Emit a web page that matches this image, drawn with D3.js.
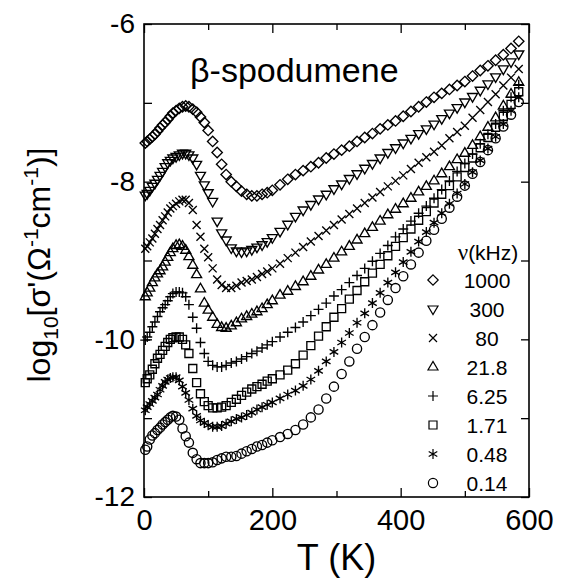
<!DOCTYPE html>
<html>
<head>
<meta charset="utf-8">
<script src="https://cdn.jsdelivr.net/npm/d3@7"></script>
<style>
  body { margin: 0; background: #fff; }
  svg { display: block; }
  text { font-family: "Liberation Sans", Arial, sans-serif; fill: #000; }
</style>
</head>
<body>
<div id="chart"></div>
<script>
// temperatures (K) shared by every frequency
const temps = [2,5,9,13,17,21,25,29,33,37,41,45,50,55,60,65,70,76,82,88,94,100,107,114,121,128,
  136,144,152,160,168,176,184,192,200,212,224,236,248,260,272,284,296,308,320,332,344,356,368,380,
  392,404,416,428,440,452,464,476,488,500,512,524,536,548,560,572,584];

// log10 sigma' for each frequency (kHz)
const s1000 = [-7.51,-7.49,-7.46,-7.43,-7.40,-7.36,-7.32,-7.28,-7.25,-7.21,-7.17,-7.13,
  -7.10,-7.07,-7.05,-7.04,-7.05,-7.08,-7.12,-7.18,-7.25,-7.35,-7.49,-7.63,-7.78,-7.91,
  -8.00,-8.06,-8.12,-8.16,-8.18,-8.18,-8.16,-8.14,-8.11,
  -8.04,-7.97,-7.91,-7.86,-7.81,-7.76,-7.70,-7.65,-7.60,-7.55,-7.49,-7.44,-7.39,-7.33,-7.28,-7.23,
  -7.17,-7.11,-7.05,-6.99,-6.93,-6.88,-6.83,-6.78,-6.73,-6.66,-6.59,-6.53,-6.46,-6.39,-6.31,-6.22];
const s300 = [-8.17,-8.15,-8.11,-8.06,-8.02,-7.97,-7.92,-7.87,-7.81,-7.76,-7.73,-7.70,
  -7.68,-7.66,-7.64,-7.64,-7.66,-7.70,-7.78,-7.92,-8.04,-8.14,-8.25,-8.50,-8.65,-8.74,
  -8.84,-8.88,-8.89,-8.88,-8.86,-8.83,-8.80,-8.76,-8.71,
  -8.63,-8.54,-8.44,-8.36,-8.29,-8.22,-8.16,-8.09,-8.03,-7.96,-7.90,-7.83,-7.77,-7.70,-7.63,-7.57,
  -7.51,-7.45,-7.39,-7.33,-7.27,-7.20,-7.13,-7.06,-6.99,-6.92,-6.84,-6.76,-6.67,-6.57,-6.48,-6.38];
const s80 = [-8.85,-8.82,-8.77,-8.72,-8.66,-8.60,-8.55,-8.49,-8.44,-8.39,-8.34,-8.31,
  -8.28,-8.25,-8.23,-8.23,-8.27,-8.36,-8.55,-8.70,-8.85,-8.96,-9.10,-9.24,-9.31,-9.35,
  -9.35,-9.32,-9.28,-9.26,-9.24,-9.21,-9.17,-9.14,-9.10,
  -9.04,-8.97,-8.90,-8.83,-8.76,-8.69,-8.62,-8.55,-8.48,-8.41,-8.34,-8.27,-8.20,-8.13,-8.06,-7.99,
  -7.92,-7.84,-7.76,-7.69,-7.62,-7.54,-7.45,-7.37,-7.29,-7.19,-7.09,-6.99,-6.89,-6.78,-6.68,-6.57];
const s21_8 = [-9.46,-9.41,-9.35,-9.28,-9.22,-9.17,-9.13,-9.08,-9.02,-8.96,-8.90,-8.85,
  -8.81,-8.80,-8.82,-8.87,-8.95,-9.06,-9.18,-9.36,-9.54,-9.63,-9.72,-9.81,-9.85,-9.86,
  -9.83,-9.79,-9.74,-9.71,-9.68,-9.65,-9.61,-9.56,-9.51,
  -9.44,-9.39,-9.33,-9.27,-9.20,-9.12,-9.05,-8.97,-8.89,-8.82,-8.74,-8.66,-8.58,-8.50,-8.42,-8.35,
  -8.28,-8.21,-8.13,-8.06,-7.99,-7.90,-7.81,-7.72,-7.64,-7.54,-7.43,-7.31,-7.19,-7.04,-6.89,-6.74];
const s6_25 = [-10.01,-9.97,-9.91,-9.84,-9.78,-9.71,-9.65,-9.60,-9.56,-9.51,-9.46,-9.42,
  -9.40,-9.40,-9.41,-9.46,-9.56,-9.72,-9.86,-10.04,-10.18,-10.28,-10.33,-10.35,-10.35,-10.33,
  -10.30,-10.28,-10.25,-10.22,-10.18,-10.15,-10.11,-10.07,-10.03,
  -9.97,-9.91,-9.85,-9.78,-9.70,-9.62,-9.54,-9.45,-9.37,-9.28,-9.19,-9.10,-9.01,-8.91,-8.81,-8.70,
  -8.60,-8.50,-8.40,-8.31,-8.21,-8.10,-7.99,-7.87,-7.77,-7.65,-7.52,-7.40,-7.27,-7.10,-6.93,-6.77];
const s1_71 = [-10.55,-10.50,-10.45,-10.38,-10.31,-10.24,-10.19,-10.14,-10.09,-10.04,-10.00,-9.98,
  -9.97,-9.97,-10.00,-10.07,-10.18,-10.37,-10.55,-10.69,-10.79,-10.84,-10.87,-10.87,-10.86,-10.84,
  -10.80,-10.76,-10.71,-10.67,-10.63,-10.60,-10.57,-10.53,-10.50,
  -10.45,-10.39,-10.31,-10.20,-10.08,-9.96,-9.84,-9.72,-9.61,-9.49,-9.38,-9.27,-9.16,-9.05,-8.94,-8.82,
  -8.71,-8.60,-8.49,-8.38,-8.27,-8.16,-8.05,-7.94,-7.82,-7.70,-7.57,-7.44,-7.31,-7.17,-7.02,-6.86];
const s0_48 = [-10.90,-10.86,-10.82,-10.78,-10.74,-10.70,-10.64,-10.59,-10.54,-10.51,-10.49,-10.48,
  -10.48,-10.52,-10.60,-10.68,-10.77,-10.88,-10.97,-11.03,-11.06,-11.09,-11.11,-11.11,-11.10,-11.07,
  -11.04,-11.01,-10.99,-10.96,-10.93,-10.89,-10.86,-10.83,-10.80,
  -10.75,-10.70,-10.65,-10.59,-10.51,-10.40,-10.28,-10.16,-10.04,-9.92,-9.79,-9.67,-9.54,-9.41,-9.28,-9.15,
  -9.02,-8.89,-8.76,-8.64,-8.52,-8.40,-8.28,-8.15,-8.03,-7.88,-7.73,-7.58,-7.43,-7.27,-7.10,-6.93];
const s0_14 = [-11.40,-11.36,-11.27,-11.22,-11.19,-11.15,-11.12,-11.08,-11.05,-11.02,-10.99,-10.97,
  -10.98,-11.02,-11.13,-11.23,-11.31,-11.44,-11.52,-11.57,-11.57,-11.57,-11.56,-11.53,-11.51,-11.49,
  -11.49,-11.48,-11.45,-11.42,-11.39,-11.36,-11.34,-11.31,-11.28,
  -11.24,-11.20,-11.15,-11.08,-10.99,-10.89,-10.75,-10.60,-10.44,-10.28,-10.12,-9.97,-9.82,-9.66,-9.50,-9.35,
  -9.20,-9.05,-8.90,-8.75,-8.61,-8.47,-8.33,-8.19,-8.05,-7.90,-7.75,-7.60,-7.45,-7.30,-7.15,-6.99];

const labels = ["1000", "300", "80", "21.8", "6.25", "1.71", "0.48", "0.14"];
const shapeNames = ["diamond", "triDown", "times", "triUp", "plus", "square", "asterisk", "circle"];
const seriesValues = [s1000, s300, s80, s21_8, s6_25, s1_71, s0_48, s0_14];

const xTicks = [0, 200, 400, 600];
const xMinor = [100, 300, 500];
const yTicks = [-6, -8, -10, -12];
const yMinor = [-7, -9, -11];

// open marker outlines
const shapes = {
  diamond: () => "M0,-5.2L5.2,0L0,5.2L-5.2,0Z",
  triDown: () => "M-5,-3L5,-3L0,5.6Z",
  triUp: () => "M-5,3L5,3L0,-5.6Z",
  times: () => "M-4,-4L4,4M-4,4L4,-4",
  plus: () => "M-5,0L5,0M0,-5L0,5",
  square: () => "M-4,-4H4V4H-4Z",
  asterisk: () => "M0,-5V5M-4.3,-2.5L4.3,2.5M-4.3,2.5L4.3,-2.5",
  circle: () => "M4.6,0A4.6,4.6 0 1,1 -4.6,0A4.6,4.6 0 1,1 4.6,0Z"
};

const width = 561, height = 588;
const margin = { top: 24, right: 32, bottom: 91, left: 144 };

const svg = d3.select("#chart").append("svg")
  .attr("width", width)
  .attr("height", height);

const x = d3.scaleLinear().domain([0, 600]).range([margin.left, width - margin.right]);
const y = d3.scaleLinear().domain([-12, -6]).range([height - margin.bottom, margin.top]);

const x0 = x.range()[0], x1 = x.range()[1], y0 = y.range()[0], y1 = y.range()[1];

// ticks, all pointing inwards
function styleAxis(g) {
  g.select(".domain").remove();
  g.selectAll(".tick line").attr("stroke", "#000").attr("stroke-width", 1.3);
}

svg.append("g").attr("transform", `translate(0,${y0})`)
  .call(d3.axisBottom(x).tickValues(xTicks).tickSize(-9).tickPadding(12).tickFormat(d3.format("d")))
  .call(styleAxis)
  .selectAll("text").style("font-size", "29px");
svg.append("g").attr("transform", `translate(0,${y0})`)
  .call(d3.axisBottom(x).tickValues(xMinor).tickSize(-6).tickFormat(""))
  .call(styleAxis);
svg.append("g").attr("transform", `translate(0,${y1})`)
  .call(d3.axisTop(x).tickValues(xTicks).tickSize(-9).tickFormat(""))
  .call(styleAxis);
svg.append("g").attr("transform", `translate(0,${y1})`)
  .call(d3.axisTop(x).tickValues(xMinor).tickSize(-6).tickFormat(""))
  .call(styleAxis);

svg.append("g").attr("transform", `translate(${x0},0)`)
  .call(d3.axisLeft(y).tickValues(yTicks).tickSize(-8).tickPadding(9).tickFormat(d => "-" + Math.abs(d)))
  .call(styleAxis)
  .selectAll("text").style("font-size", "28px");
svg.append("g").attr("transform", `translate(${x0},0)`)
  .call(d3.axisLeft(y).tickValues(yMinor).tickSize(-8).tickFormat(""))
  .call(styleAxis);
svg.append("g").attr("transform", `translate(${x1},0)`)
  .call(d3.axisRight(y).tickValues(yTicks.concat(yMinor)).tickSize(-8).tickFormat(""))
  .call(styleAxis);

svg.append("rect")
  .attr("x", x0).attr("y", y1)
  .attr("width", x1 - x0).attr("height", y0 - y1)
  .attr("fill", "none").attr("stroke", "#000").attr("stroke-width", 1.6);

// data markers
const plot = svg.append("g");
seriesValues.forEach((vals, k) => {
  plot.append("g")
    .selectAll("path")
    .data(temps.map((t, i) => [t, vals[i]]))
    .join("path")
    .attr("transform", d => `translate(${x(d[0])},${y(d[1])})`)
    .attr("d", shapes[shapeNames[k]])
    .attr("fill", "none")
    .attr("stroke", "#000")
    .attr("stroke-width", 1.35);
});

// legend
const legend = svg.append("g");
legend.append("text")
  .attr("x", 488).attr("y", 260)
  .attr("text-anchor", "middle")
  .style("font-size", "21px")
  .html('<tspan style="font-family:\'Liberation Serif\',serif;font-size:23px">ν</tspan>(kHz)');
labels.forEach((lab, i) => {
  const cy = 280 + i * 29;
  legend.append("path")
    .attr("transform", `translate(433,${cy})`)
    .attr("d", shapes[shapeNames[i]])
    .attr("fill", "none").attr("stroke", "#000").attr("stroke-width", 1.2);
  legend.append("text")
    .attr("x", 487).attr("y", cy + 8)
    .attr("text-anchor", "middle")
    .style("font-size", "21px")
    .text(lab);
});

// titles
svg.append("text")
  .attr("x", 190).attr("y", 82)
  .style("font-size", "34px")
  .text("β-spodumene");

svg.append("text")
  .attr("x", (x0 + x1) / 2).attr("y", 570)
  .attr("text-anchor", "middle")
  .style("font-size", "36px")
  .text("T (K)");

svg.append("text")
  .attr("transform", "translate(50,265) rotate(-90)")
  .attr("text-anchor", "middle")
  .style("font-size", "32px")
  .html('log<tspan font-size="21px" dy="8">10</tspan><tspan dy="-8">[σ\'(Ω</tspan>' +
        '<tspan font-size="21px" dy="-12">-1</tspan><tspan dy="12">cm</tspan>' +
        '<tspan font-size="21px" dy="-12">-1</tspan><tspan dy="12">)]</tspan>');
</script>
</body>
</html>
